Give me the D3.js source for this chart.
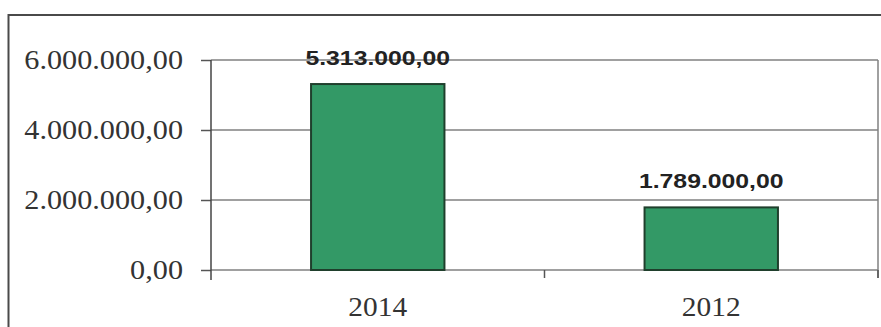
<!DOCTYPE html>
<html lang="pt">
<head>
    <meta charset="UTF-8">
    <title>Chart</title>
    <script src="https://cdn.jsdelivr.net/npm/d3@7"></script>
    <style>
      html, body { margin: 0; padding: 0; background: #fff; }
      svg { display: block; }
    </style>
</head>
<body>
<script>
  // data
  var categories = ["2014", "2012"];
  var values = [5313000, 1789000];
  var yTicks = [0, 2000000, 4000000, 6000000];

  drawChart();

  function drawChart() {
    var width = 881, height = 327;

    // pt-BR style number: 6.000.000,00
    var loc = d3.formatLocale({decimal: ",", thousands: ".", grouping: [3], currency: ["", ""]});
    var fmt = loc.format(",.2f");

    var svg = d3.select("body").append("svg")
      .attr("width", width)
      .attr("height", height);

    // outer chart frame (clipped on right and bottom)
    svg.append("rect")
      .attr("x", 8.5).attr("y", 15)
      .attr("width", 900).attr("height", 400)
      .attr("fill", "#fff")
      .attr("stroke", "#4a4a4a")
      .attr("stroke-width", 2);

    var plot = {left: 211, right: 878, top: 60, bottom: 270};

    var x = d3.scaleBand()
      .domain(categories)
      .range([plot.left, plot.right])
      .paddingInner(0.6)
      .paddingOuter(0.3);

    var y = d3.scaleLinear()
      .domain([0, 6000000])
      .range([plot.bottom, plot.top]);

    // gridlines
    svg.append("g").selectAll("line")
      .data(yTicks)
      .enter().append("line")
      .attr("x1", plot.left).attr("x2", plot.right)
      .attr("y1", d => y(d)).attr("y2", d => y(d))
      .attr("stroke", "#808080")
      .attr("stroke-width", 1.5);

    // right plot border
    svg.append("line")
      .attr("x1", plot.right).attr("x2", plot.right)
      .attr("y1", plot.top).attr("y2", plot.bottom + 8)
      .attr("stroke", "#808080")
      .attr("stroke-width", 1.5);

    // y axis
    var yAxis = d3.axisLeft(y)
      .tickValues(yTicks)
      .tickFormat(fmt)
      .tickSizeInner(10)
      .tickSizeOuter(0)
      .tickPadding(15);

    var gy = svg.append("g")
      .attr("transform", "translate(" + plot.left + ",0)")
      .call(yAxis);
    gy.select(".domain").remove();
    gy.selectAll(".tick line").attr("stroke", "#555").attr("stroke-width", 1.5);
    gy.selectAll(".tick text")
      .attr("fill", "#333")
      .attr("transform", "scale(1.12,1)")
      .style("font-family", "'Liberation Serif', 'Times New Roman', serif")
      .style("font-size", "27px")
      .attr("dy", "0.3em");

    svg.append("line")
      .attr("x1", plot.left).attr("x2", plot.left)
      .attr("y1", plot.top).attr("y2", plot.bottom + 10)
      .attr("stroke", "#444")
      .attr("stroke-width", 1.5);

    // category ticks between bands
    var step = x.step();
    var catTicks = [plot.left + step, plot.right];
    svg.append("g").selectAll("line")
      .data(catTicks)
      .enter().append("line")
      .attr("x1", d => d).attr("x2", d => d)
      .attr("y1", plot.bottom).attr("y2", plot.bottom + 8)
      .attr("stroke", "#555")
      .attr("stroke-width", 1.5);

    // x labels
    svg.append("g").selectAll("text")
      .data(categories)
      .enter().append("text")
      .attr("transform", d => "translate(" + (x(d) + x.bandwidth() / 2) + ",316) scale(1.05,1)")
      .attr("text-anchor", "middle")
      .attr("fill", "#333")
      .style("font-family", "'Liberation Serif', 'Times New Roman', serif")
      .style("font-size", "28px")
      .text(d => d);

    // bars
    svg.append("g").selectAll("rect")
      .data(values)
      .enter().append("rect")
      .attr("x", (d, i) => x(categories[i]))
      .attr("y", d => y(d))
      .attr("width", x.bandwidth())
      .attr("height", d => y(0) - y(d))
      .attr("fill", "#339966")
      .attr("stroke", "#1f3f2c")
      .attr("stroke-width", 2);

    // value labels (a bit wider than the font, as in the picture)
    svg.append("g").selectAll("text")
      .data(values)
      .enter().append("text")
      .attr("transform", (d, i) => "translate(" + (x(categories[i]) + x.bandwidth() / 2) + "," + (y(d) - 19) + ") scale(1.18,1)")
      .attr("text-anchor", "middle")
      .attr("fill", "#222")
      .style("font-family", "'Liberation Sans', Arial, sans-serif")
      .style("font-weight", "bold")
      .style("font-size", "21px")
      .text(d => fmt(d));
  }
</script>
</body>
</html>
